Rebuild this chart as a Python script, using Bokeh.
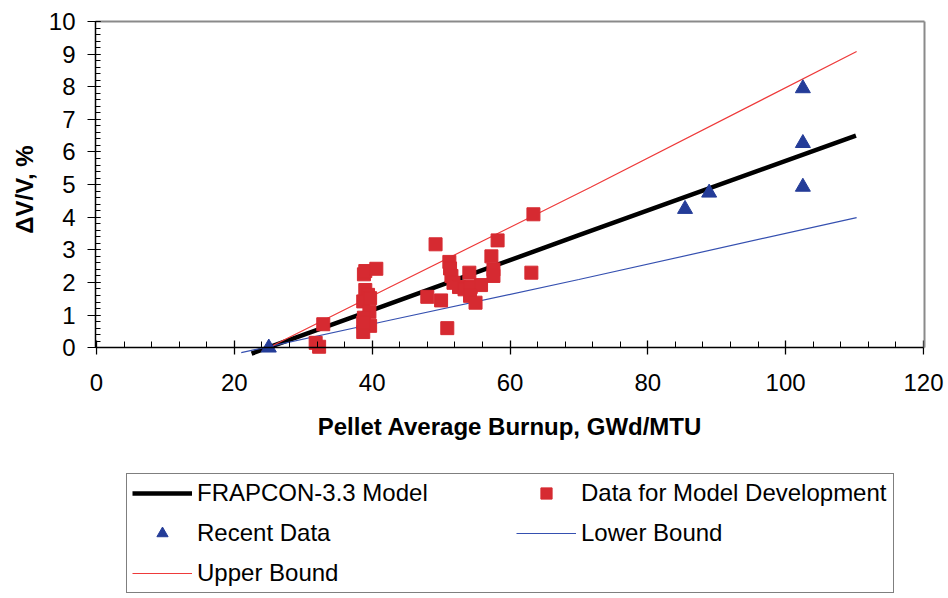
from bokeh.plotting import figure
from bokeh.layouts import column
from bokeh.models import (Range1d, LinearAxis, SingleIntervalTicker, FixedTicker,
                          Legend, LegendItem)
from bokeh.embed import file_html
from bokeh.resources import INLINE

# ---- data ----
model_x = [22.5, 40.0, 70.0, 110.2]
model_y = [-0.18, 1.15, 3.45, 6.50]

upper_x = [24.0, 42.6, 71.7, 110.3]
upper_y = [-0.10, 1.86, 4.92, 9.08]

lower_x = [21.0, 42.7, 70.0, 110.3]
lower_y = [-0.15, 0.85, 2.09, 3.99]

dev_x = [63.4, 58.2, 49.2, 51.2, 57.3, 51.3, 51.5, 51.8, 54.1, 57.6, 57.6, 63.1,
         52.6, 53.4, 54.3, 55.8, 54.2, 55.0, 48.0, 50.0, 50.9,
         32.9, 31.8, 32.3,
         38.8, 39.0, 40.6, 39.0, 39.4, 38.7, 39.7, 39.6, 38.8, 39.7, 38.7, 38.7]
dev_y = [4.09, 3.29, 3.17, 2.63, 2.80, 2.43, 2.20, 1.99, 2.30, 2.40, 2.20, 2.30,
         1.86, 1.79, 1.86, 1.92, 1.59, 1.38, 1.56, 1.45, 0.60,
         0.72, 0.15, 0.03,
         2.25, 2.35, 2.42, 1.77, 1.62, 1.42, 1.52, 1.10, 0.92, 0.67, 0.48, 0.77]

recent_x = [25.0, 85.4, 88.9, 102.5, 102.5, 102.5]
recent_y = [0.0, 4.25, 4.75, 7.95, 6.27, 4.93]

series_labels = ["FRAPCON-3.3 Model", "Data for Model Development", "Recent Data",
                 "Lower Bound", "Upper Bound"]

x_tick_interval = 20
y_tick_interval = 1

FONT = "Liberation Sans"
C_MODEL, C_DEV, C_REC, C_LOW, C_UP = "black", "#D62A31", "#243C98", "#3550B0", "#EE3A3A"


def draw_series(fig):
    rm = fig.line(model_x, model_y, line_color=C_MODEL, line_width=4.5)
    rl = fig.line(lower_x, lower_y, line_color=C_LOW, line_width=1.2)
    ru = fig.line(upper_x, upper_y, line_color=C_UP, line_width=1.2)
    rd = fig.scatter(dev_x, dev_y, marker="square", size=13,
                     fill_color=C_DEV, line_color=C_DEV)
    rr = fig.scatter(recent_x, recent_y, marker="triangle", size=15,
                     fill_color=C_REC, line_color=C_REC)
    return [rm, rd, rr, rl, ru]


p = figure(width=946, height=460,
           x_range=Range1d(-0.15, 120.15), y_range=Range1d(-0.3, 10),
           output_backend="svg", toolbar_location=None,
           min_border_left=95, min_border_top=21, min_border_right=22,
           min_border_bottom=103)
p.grid.visible = False
p.outline_line_color = None
draw_series(p)

# x axis: line + ticks at y = 0 (fixed, no labels), labels in a separate axis below
xa = p.xaxis[0]
xa.ticker = SingleIntervalTicker(interval=x_tick_interval, num_minor_ticks=5)
xa.fixed_location = 0
xa.axis_line_color = "black"
xa.axis_line_width = 1.5
xa.major_tick_in = 7
xa.major_tick_out = 7
xa.minor_tick_in = 6
xa.minor_tick_out = 0
xa.major_tick_line_color = "black"
xa.major_tick_line_width = 1.3
xa.minor_tick_line_color = "black"
xa.major_label_text_color = None
xa.major_label_standoff = 0

xl = LinearAxis(ticker=SingleIntervalTicker(interval=x_tick_interval),
                axis_line_color=None, major_tick_line_color=None,
                minor_tick_line_color=None, major_tick_in=0, major_tick_out=0,
                minor_tick_in=0, minor_tick_out=0)
xl.major_label_text_font = FONT
xl.major_label_text_font_size = "24px"
xl.major_label_text_color = "black"
xl.major_label_standoff = 16
xl.axis_label = "Pellet Average Burnup, GWd/MTU"
xl.axis_label_text_font = FONT
xl.axis_label_text_font_size = "24px"
xl.axis_label_text_font_style = "bold"
xl.axis_label_text_color = "black"
xl.axis_label_standoff = 19
p.add_layout(xl, "below")

# y axis
ya = p.yaxis[0]
ya.ticker = SingleIntervalTicker(interval=y_tick_interval, num_minor_ticks=5)
ya.bounds = (0, 10)
ya.axis_line_color = "black"
ya.axis_line_width = 1.5
ya.major_tick_in = 5
ya.major_tick_out = 8
ya.minor_tick_in = 5
ya.minor_tick_out = 0
ya.major_tick_line_color = "black"
ya.minor_tick_line_color = "black"
ya.major_label_text_font = FONT
ya.major_label_text_font_size = "24px"
ya.major_label_text_color = "black"
ya.major_label_standoff = 12
ya.axis_label = "\u0394V/V, %"
ya.axis_label_text_font = FONT
ya.axis_label_text_font_size = "24px"
ya.axis_label_text_font_style = "bold"
ya.axis_label_text_color = "black"
ya.axis_label_standoff = 8

# plot-area border (top and right)
top_border = LinearAxis(ticker=FixedTicker(ticks=[]), axis_line_color="#8a8a8a",
                        axis_line_width=2, major_tick_line_color=None,
                        minor_tick_line_color=None, major_tick_out=0,
                        major_label_text_color=None, major_label_standoff=0)
right_border = LinearAxis(ticker=FixedTicker(ticks=[]), axis_line_color="#8a8a8a",
                          axis_line_width=2, major_tick_line_color=None,
                          minor_tick_line_color=None, major_tick_out=0,
                          major_label_text_color=None, major_label_standoff=0,
                          bounds=(0, 10))
p.add_layout(top_border, "above")
p.add_layout(right_border, "right")

# ---- legend strip below the chart (series drawn out of view; only the key shows) ----
q = figure(width=946, height=136, x_range=Range1d(1000, 1001), y_range=Range1d(1000, 1001),
           output_backend="svg", toolbar_location=None,
           x_axis_location=None, y_axis_location=None,
           min_border_left=95, min_border_right=22, min_border_top=0, min_border_bottom=0)
q.grid.visible = False
q.outline_line_color = None
keys = draw_series(q)

legend = Legend(items=[LegendItem(label=lab, renderers=[r]) for lab, r in
                       zip(series_labels, keys)],
                location=(31, 3), orientation="horizontal", ncols=2)
legend.label_text_font = FONT
legend.label_text_font_size = "24px"
legend.label_text_color = "black"
legend.border_line_color = "black"
legend.border_line_width = 1
legend.background_fill_color = "white"
legend.margin = 0
legend.padding = 5
legend.spacing = 12
legend.glyph_width = 60
legend.glyph_height = 28
legend.label_width = 307
legend.label_height = 28
legend.label_standoff = 5
q.add_layout(legend, "center")

layout = column(p, q, spacing=0)
open("out.html", "w").write(file_html(layout, INLINE))
